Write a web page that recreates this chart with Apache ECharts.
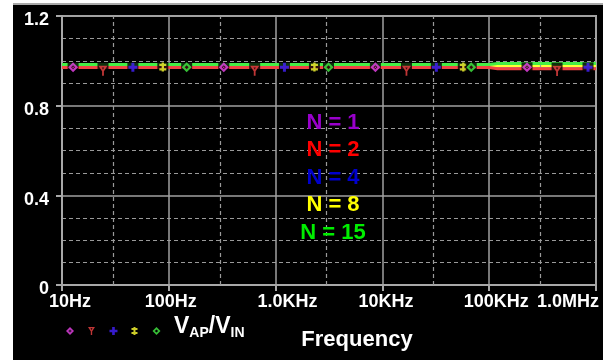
<!DOCTYPE html>
<html><head><meta charset="utf-8">
<script src="https://cdn.jsdelivr.net/npm/echarts@6/dist/echarts.min.js"></script>
<style>
html,body{margin:0;padding:0;background:#fff;}
#frame{position:absolute;left:13px;top:3px;width:590px;height:357px;background:#000;border-top:2px solid #a8a8a8;box-sizing:border-box;}
#chart{position:absolute;left:0;top:0;width:612px;height:360px;}
</style></head><body>
<div id="frame"></div><div id="chart"></div>
<script>
// ---- data ----
const seriesNames = ['N = 1', 'N = 2', 'N = 4', 'N = 8', 'N = 15'];
const freqs = [10, 100, 1000, 10000, 100000, 120000, 1000000];
const vN1  = [0.9703, 0.9703, 0.9703, 0.9703, 0.9703, 0.9703, 0.9703];
const vN2  = [0.9703, 0.9703, 0.9703, 0.9703, 0.9703, 0.9650, 0.9650];
const vN4  = [0.9703, 0.9703, 0.9703, 0.9703, 0.9703, 0.9703, 0.9703];
const vN8  = [0.9765, 0.9765, 0.9765, 0.9765, 0.9765, 0.9765, 0.9765];
const vN15 = [0.9836, 0.9836, 0.9836, 0.9836, 0.9836, 0.9881, 0.9881];
// marker positions (frequency, value)
const mkFreqN1  = [12.7, 327, 8600, 226000];
const mkFreqN2  = [24.2, 637, 16800, 432000];
const mkFreqN4  = [46.1, 1210, 32000, 842000];
const mkFreqN8  = [87.9, 2310, 57200];
const mkFreqN15 = [147, 3130, 67900];
const mkValN1  = [0.971, 0.971, 0.971, 0.971];
const mkValN2  = [0.971, 0.971, 0.971, 0.970];
const mkValN4  = [0.971, 0.971, 0.971, 0.971];
const mkValN8  = [0.972, 0.972, 0.972];
const mkValN15 = [0.971, 0.971, 0.971];
const xTickLabels = ['10Hz', '100Hz', '1.0KHz', '10KHz', '100KHz', '1.0MHz'];
const yTickLabels = ['0', '0.4', '0.8', '1.2'];
const xDashFreqs = [30, 300, 3000, 30000, 300000];

// ---- styles ----
const lineColor = {'N = 1':'#ee44ee','N = 2':'#f04444','N = 4':'#4422ff','N = 8':'#ffff33','N = 15':'#44ee44'};
const textColor = {'N = 1':'#9900cc','N = 2':'#ff0000','N = 4':'#0000cc','N = 8':'#ffff00','N = 15':'#00ee00'};
const sym = {
  'N = 1': {p:'path://M5 0 L10 5 L5 10 L0 5 Z M5 3 L3 5 L5 7 L7 5 Z M5 4.1 L5.9 5 L5 5.9 L4.1 5 Z', s:[10,10], o:[0,0]},
  'N = 2': {p:'path://M0 0 L10 0 L5 8 Z M3.6 1.8 L5 4.3 L6.4 1.8 Z M4 6.5 L6 6.5 L6 11.5 L4 11.5 Z', s:[9,10], o:[0,3.5]},
  'N = 4': {p:'path://M3 0 L6 0 L6 3 L9 3 L9 6 L6 6 L6 9 L3 9 L3 6 L0 6 L0 3 L3 3 Z', s:[9,9], o:[0,0]},
  'N = 8': {p:'path://M2 0 L4 0 L4 1 L6 1 L6 3 L4 3 L4 5 L6 5 L6 7 L4 7 L4 8 L2 8 L2 7 L0 7 L0 5 L2 5 L2 3 L0 3 L0 1 L2 1 Z', s:[7,9], o:[0,0]},
  'N = 15': {p:'path://M5 0 L10 5 L5 10 L0 5 Z M5 3 L3 5 L5 7 L7 5 Z', s:[10,10], o:[0,0]}
};
const labelShift = [8, 2, 12, 3.5, 7, -28];
const FONT = '"Liberation Sans", Arial, sans-serif';

const lineVals = {'N = 1':vN1,'N = 2':vN2,'N = 4':vN4,'N = 8':vN8,'N = 15':vN15};
const mkF = {'N = 1':mkFreqN1,'N = 2':mkFreqN2,'N = 4':mkFreqN4,'N = 8':mkFreqN8,'N = 15':mkFreqN15};
const mkV = {'N = 1':mkValN1,'N = 2':mkValN2,'N = 4':mkValN4,'N = 8':mkValN8,'N = 15':mkValN15};

const series = [];
const lineOrder = ['N = 1', 'N = 4', 'N = 8', 'N = 2', 'N = 15'];
lineOrder.forEach((n, i) => {
  const s = {
    name: 'trace ' + n, type: 'line', z: 2 + i, silent: true,
    showSymbol: false, symbol: 'none',
    data: freqs.map((f, k) => [f, lineVals[n][k]]),
    lineStyle: {color: lineColor[n], width: 3},
    itemStyle: {color: lineColor[n]}
  };
  if (i === 0) {
    s.markLine = {
      silent: true, symbol: ['none', 'none'], label: {show: false},
      lineStyle: {color: '#9a9a9a', width: 1.2, type: [4, 3]},
      data: xDashFreqs.map(f => ({xAxis: f}))
    };
  }
  series.push(s);
});
seriesNames.forEach((n, i) => {
  const pts = mkF[n].map((f, k) => [f, mkV[n][k]]);
  series.push({
    name: 'gap ' + n, type: 'scatter', z: 10 + 2 * i, silent: true,
    symbol: 'rect', symbolSize: [11, 9], symbolOffset: [0, -0.5],
    itemStyle: {color: '#000'}, data: pts
  });
  series.push({
    name: n, type: 'scatter', z: 11 + 2 * i, silent: true,
    symbol: sym[n].p, symbolSize: sym[n].s, symbolOffset: sym[n].o,
    itemStyle: {color: lineColor[n]}, data: pts
  });
});

const rich = {};
labelShift.forEach((s, i) => {
  rich['l' + i] = {
    color: '#fff', fontSize: 18, fontWeight: 'bold', fontFamily: FONT, lineHeight: 18,
    padding: s >= 0 ? [0, 0, 0, 2 * s] : [0, -2 * s, 0, 0]
  };
});

const annY = [123, 150, 177.5, 205, 232.5];
const graphic = seriesNames.map((n, i) => ({
  type: 'text', x: 333, y: annY[i], z: 100, silent: true,
  style: {text: n, fill: textColor[n], font: 'bold 22px ' + FONT, align: 'center', verticalAlign: 'middle'}
}));
graphic.push({
  type: 'text', x: 357, y: 340, z: 100, silent: true,
  style: {text: 'Frequency', fill: '#fff', font: 'bold 22px ' + FONT, align: 'center', verticalAlign: 'middle'}
});
graphic.push({
  type: 'text', x: 174, y: 327, z: 100, silent: true,
  style: {
    text: '{v|V}{s|AP}{v|/V}{s|IN}', align: 'left', verticalAlign: 'middle',
    rich: {
      v: {fill: '#fff', fontSize: 23, fontWeight: 'bold', fontFamily: FONT, lineHeight: 26},
      s: {fill: '#fff', fontSize: 14, fontWeight: 'bold', fontFamily: FONT, lineHeight: 14, verticalAlign: 'bottom'}
    }
  }
});

const chart = echarts.init(document.getElementById('chart'), null, {renderer: 'canvas'});
chart.setOption({
  backgroundColor: 'transparent',
  animation: false,
  grid: {left: 62, right: 16, top: 16, bottom: 75, show: true, borderColor: '#a8a8a8', borderWidth: 2,
         backgroundColor: 'transparent', containLabel: false, outerBoundsMode: 'none'},
  legend: {
    left: 66, top: 327, padding: 0, itemWidth: 8, itemHeight: 8, itemGap: 9,
    selectedMode: false, formatter: () => '',
    textStyle: {fontSize: 8, lineHeight: 8},
    data: seriesNames.map(n => ({name: n, icon: sym[n].p}))
  },
  xAxis: {
    type: 'log', logBase: 10, min: 10, max: 1000000,
    axisLine: {show: true, lineStyle: {color: '#a8a8a8', width: 2}},
    axisTick: {show: true, inside: false, length: 6, lineStyle: {color: '#a8a8a8', width: 2}},
    minorTick: {show: false},
    splitLine: {show: true, lineStyle: {color: '#a0a0a0', width: 1.5}},
    axisLabel: {
      margin: 8, formatter: (v, i) => '{l' + i + '|' + xTickLabels[i] + '}', rich: rich,
      color: '#fff', fontSize: 18, fontWeight: 'bold', fontFamily: FONT
    }
  },
  yAxis: {
    type: 'value', min: 0, max: 1.2, interval: 0.4,
    axisLine: {show: true, lineStyle: {color: '#a8a8a8', width: 2}},
    axisTick: {show: true, inside: false, length: 6, lineStyle: {color: '#a8a8a8', width: 2}},
    minorTick: {show: false, splitNumber: 4},
    splitLine: {show: true, lineStyle: {color: '#a0a0a0', width: 1.5}},
    minorSplitLine: {show: true, lineStyle: {color: '#9a9a9a', width: 1.2, type: [4, 3]}},
    axisLabel: {
      margin: 13, formatter: (v, i) => yTickLabels[i], verticalAlign: 'top', lineHeight: 9,
      color: '#fff', fontSize: 18, fontWeight: 'bold', fontFamily: FONT
    }
  },
  graphic: graphic,
  series: series
});
</script>
</body></html>
